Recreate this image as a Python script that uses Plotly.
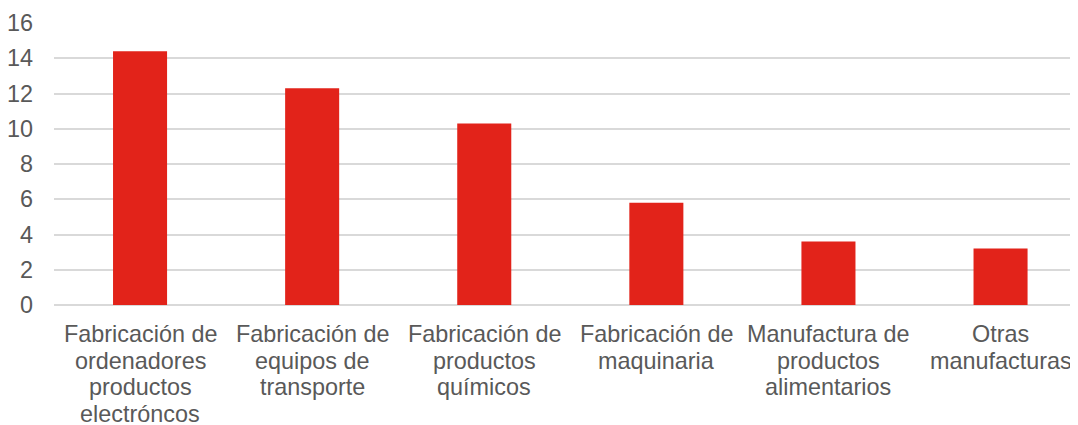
import plotly.graph_objects as go

categories = [
    "Fabricación de<br>ordenadores<br>productos<br>electróncos",
    "Fabricación de<br>equipos de<br>transporte",
    "Fabricación de<br>productos<br>químicos",
    "Fabricación de<br>maquinaria",
    "Manufactura de<br>productos<br>alimentarios",
    "Otras<br>manufacturas",
]
values = [14.4, 12.3, 10.3, 5.8, 3.6, 3.2]
y_ticks = [0, 2, 4, 6, 8, 10, 12, 14, 16]

FONT = "Liberation Sans, Arial, sans-serif"
TEXT = "#595959"
FS = 23.4
LINE = 26.7

xs = list(range(len(categories)))

fig = go.Figure(
    go.Bar(
        x=xs,
        y=values,
        marker=dict(color="#E2231A", line=dict(width=0)),
        width=0.314,
        hoverinfo="x+y",
    )
)

annotations = []
for i, label in enumerate(categories):
    for k, line in enumerate(label.split("<br>")):
        annotations.append(
            dict(
                x=i,
                y=0,
                xref="x",
                yref="y",
                text=line,
                showarrow=False,
                xanchor="center",
                yanchor="middle",
                yshift=-(29 + k * LINE),
                font=dict(family=FONT, size=FS, color=TEXT),
            )
        )

fig.update_layout(
    width=1070,
    height=417,
    margin=dict(l=46, r=0, t=15, b=120),
    paper_bgcolor="white",
    plot_bgcolor="white",
    showlegend=False,
    font=dict(family=FONT, color=TEXT),
    annotations=annotations,
)
fig.update_xaxes(
    tickmode="array",
    tickvals=xs,
    showticklabels=False,
    range=[-0.5, 5.45],
    showgrid=False,
    zeroline=False,
    showline=False,
    ticks="",
    automargin=False,
)
fig.update_yaxes(
    range=[0, 16],
    tickvals=y_ticks,
    showgrid=True,
    gridcolor="#D9D9D9",
    gridwidth=2,
    zeroline=True,
    zerolinecolor="#D9D9D9",
    zerolinewidth=2,
    showline=False,
    ticks="",
    tickfont=dict(family=FONT, size=FS, color=TEXT),
    ticklabelstandoff=20,
    automargin=False,
)

fig.write_html("out.html")
